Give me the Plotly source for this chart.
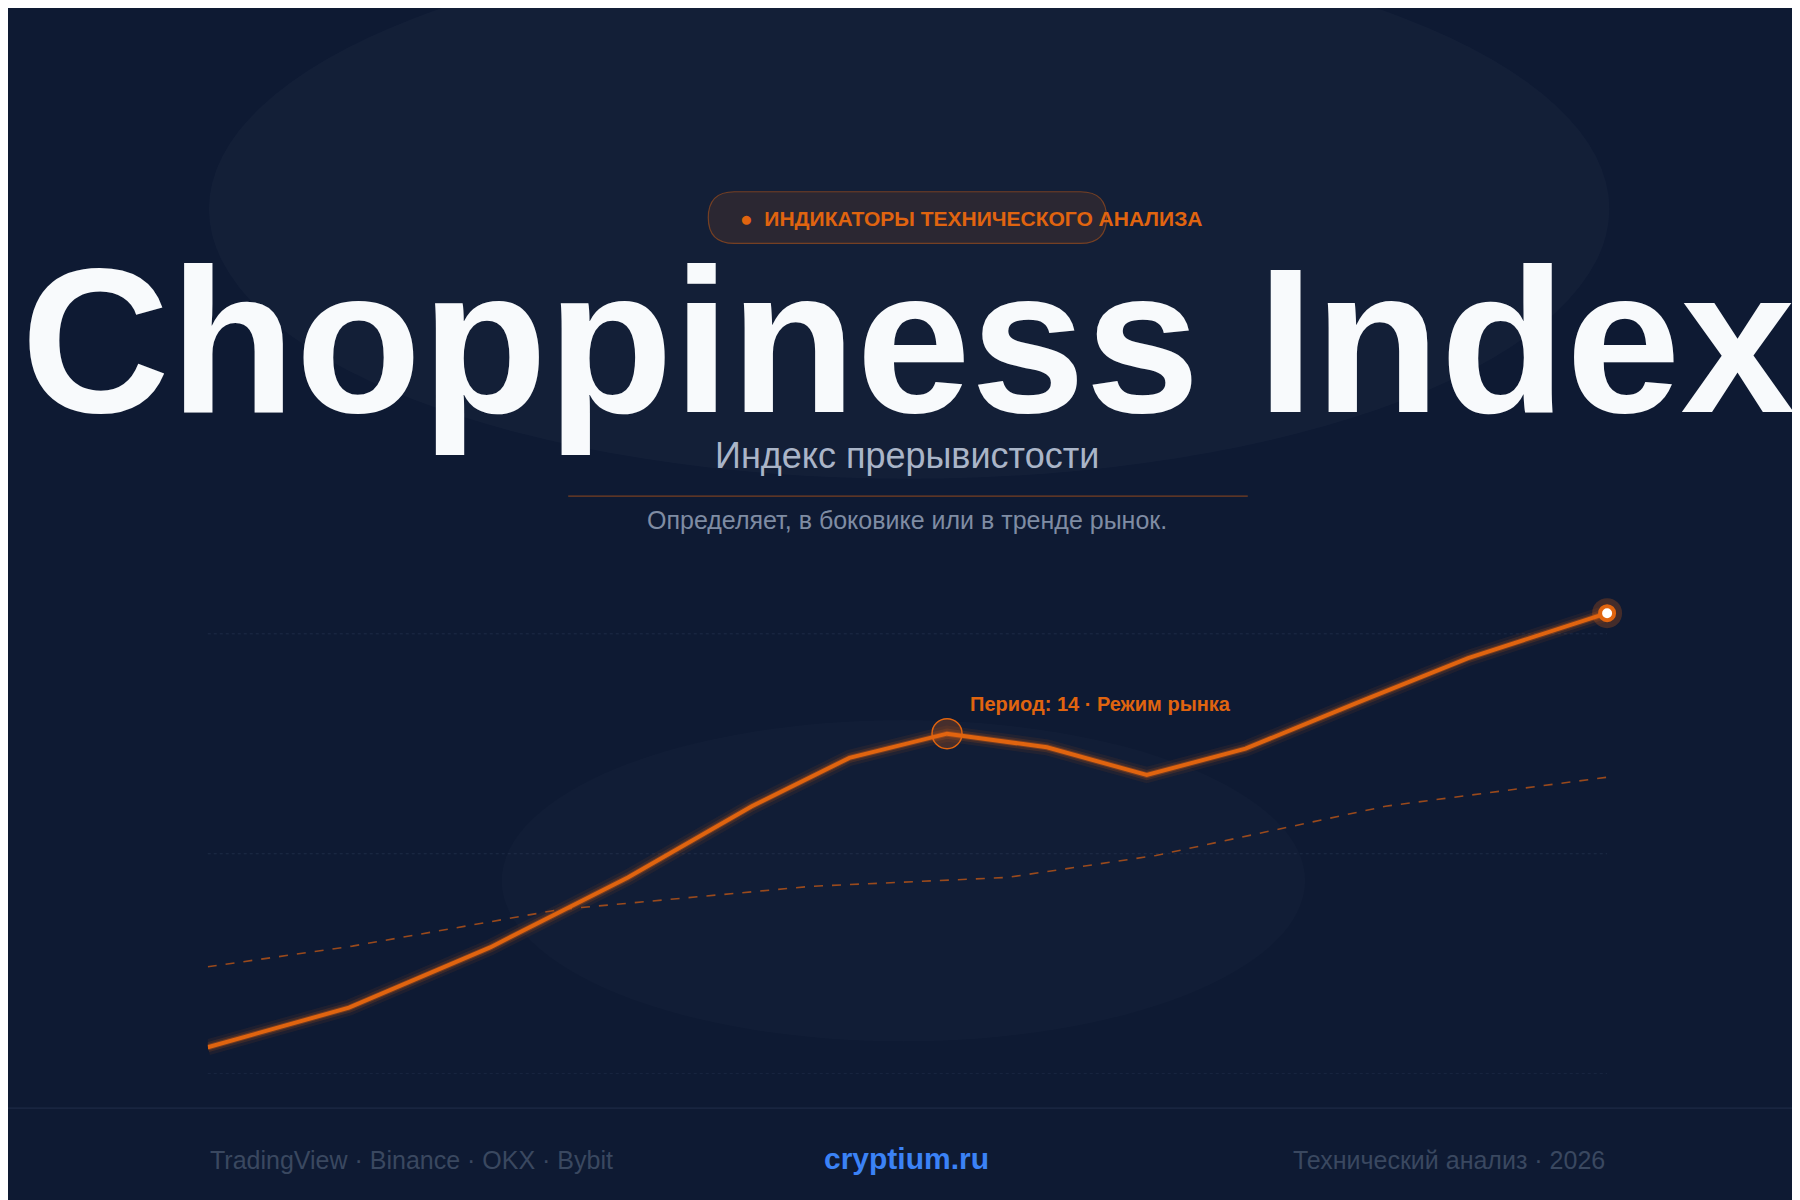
import plotly.graph_objects as go

# chart values (x in chart units, y on a 0-100 choppiness scale)
x_main = [174, 297, 420, 540, 648, 733, 818, 905, 992, 1078, 1175, 1272, 1393]
chop = [6, 15, 28.7, 44.6, 60.8, 71.8, 77.3, 74.2, 67.9, 73.9, 84.3, 94.5, 104.7]
x_avg = [174, 300, 480, 700, 870, 1000, 1200, 1393]
chop_avg = [24.3, 29, 37.3, 42.6, 44.6, 49.6, 60.8, 67.4]
grid_levels = [0, 50, 100]

ORANGE = '#e0640f'
W, H = 1800, 1200
RW, RH = 1568, 1045  # layout reference grid


def px(x):
    return x / RW


def py(y):
    return 1 - y / RH


fig = go.Figure()

# glow layers under the main line
for width, alpha in [(16, 0.08), (10, 0.15), (6, 0.3)]:
    fig.add_trace(go.Scatter(x=x_main, y=chop, mode='lines',
                             line=dict(color=f'rgba(230,100,15,{alpha})', width=width),
                             hoverinfo='skip', showlegend=False, cliponaxis=False))

fig.add_trace(go.Scatter(x=x_avg, y=chop_avg, mode='lines',
                         line=dict(color='rgba(200,90,20,0.75)', width=1.6, dash='dash'),
                         showlegend=False))

fig.add_trace(go.Scatter(x=x_main, y=chop, mode='lines',
                         line=dict(color=ORANGE, width=4),
                         showlegend=False, cliponaxis=False))

# highlighted point
fig.add_trace(go.Scatter(x=[x_main[6]], y=[chop[6]], mode='markers',
                         marker=dict(size=30, color='rgba(230,100,15,0.25)',
                                     line=dict(color=ORANGE, width=1.5)),
                         showlegend=False, cliponaxis=False))

# end point
fig.add_trace(go.Scatter(x=[x_main[-1]], y=[chop[-1]], mode='markers',
                         marker=dict(size=30, color='rgba(230,100,15,0.25)'),
                         showlegend=False, cliponaxis=False))
fig.add_trace(go.Scatter(x=[x_main[-1]], y=[chop[-1]], mode='markers',
                         marker=dict(size=14, color='white', line=dict(color=ORANGE, width=4)),
                         showlegend=False, cliponaxis=False))

# rounded pill path (pixel coords, converted to paper below)
x0, x1, y0, y1, r = px(610) * W, px(957) * W, (1 - py(205)) * H, (1 - py(160)) * H, 26
pill = (f'M {x0 + r},{y0} L {x1 - r},{y0} Q {x1},{y0} {x1},{y0 - r} '
        f'L {x1},{y1 + r} Q {x1},{y1} {x1 - r},{y1} L {x0 + r},{y1} '
        f'Q {x0},{y1} {x0},{y1 + r} L {x0},{y0 - r} Q {x0},{y0} {x0 + r},{y0} Z')


def to_paper(path):
    out = []
    for tok in path.split():
        if ',' in tok:
            a, b = tok.split(',')
            out.append(f'{float(a) / W:.5f},{1 - float(b) / H:.5f}')
        else:
            out.append(tok)
    return ' '.join(out)


shapes = [
    # faint backdrop ellipses
    dict(type='circle', xref='paper', yref='paper', x0=px(175), x1=px(1395),
         y0=py(410), y1=py(-60), fillcolor='rgba(255,255,255,0.025)', line_width=0,
         layer='below'),
    dict(type='circle', xref='paper', yref='paper', x0=px(430), x1=px(1130),
         y0=py(900), y1=py(620), fillcolor='rgba(255,255,255,0.015)', line_width=0,
         layer='below'),
    dict(type='path', xref='paper', yref='paper', path=to_paper(pill),
         fillcolor='rgba(224,100,15,0.12)',
         line=dict(color='rgba(224,100,15,0.45)', width=1.2), layer='below'),
    # divider
    dict(type='line', xref='paper', yref='paper', x0=px(488), x1=px(1080),
         y0=py(425), y1=py(425), line=dict(color='rgba(224,100,15,0.5)', width=1.2)),
    # footer line
    dict(type='line', xref='paper', yref='paper', x0=0, x1=1,
         y0=py(958), y1=py(958), line=dict(color='rgba(120,140,180,0.18)', width=1)),
]
for g in grid_levels:
    shapes.append(dict(type='line', xref='paper', yref='y', x0=px(174), x1=px(1393),
                       y0=g, y1=g, line=dict(color='rgba(120,140,180,0.15)', width=1, dash='dot'),
                       layer='below'))

font = 'Liberation Sans, Arial, sans-serif'
ann = [
    dict(x=px(636), y=py(183), text='●  ИНДИКАТОРЫ ТЕХНИЧЕСКОГО АНАЛИЗА', xanchor='left',
         font=dict(size=21, color=ORANGE, family=font, weight='bold')),
    dict(x=0.5, y=py(290), text='<b>Choppiness Index</b>',
         font=dict(size=206, color='#f8fafc', family=font)),
    dict(x=px(783), y=py(390), text='Индекс прерывистости',
         font=dict(size=36, color='#aab5c8', family=font)),
    dict(x=px(783), y=py(446), text='Определяет, в боковике или в тренде рынок.',
         font=dict(size=25, color='#7f8ca3', family=font)),
    dict(x=px(836), y=py(606), text='<b>Период: 14 · Режим рынка</b>', xanchor='left',
         font=dict(size=20, color=ORANGE, family=font)),
    dict(x=px(174), y=py(1003), text='TradingView · Binance · OKX · Bybit', xanchor='left',
         font=dict(size=25, color='#3a4860', family=font)),
    dict(x=px(783), y=py(1002), text='<b>cryptium.ru</b>',
         font=dict(size=30, color='#3b82f6', family=font)),
    dict(x=px(1393), y=py(1003), text='Технический анализ · 2026', xanchor='right',
         font=dict(size=25, color='#3a4860', family=font)),
]
for a in ann:
    a.setdefault('xanchor', 'center')
    a.update(xref='paper', yref='paper', yanchor='middle', showarrow=False)

fig.update_layout(
    width=W, height=H, margin=dict(l=0, r=0, t=0, b=0),
    paper_bgcolor='#0e1a33', plot_bgcolor='rgba(0,0,0,0)',
    shapes=shapes, annotations=ann,
    xaxis=dict(domain=[px(174), px(1393)], range=[174, 1393], visible=False),
    yaxis=dict(domain=[py(928), py(506.7)], range=[0, 110], visible=False),
)

fig.write_html("out.html")
